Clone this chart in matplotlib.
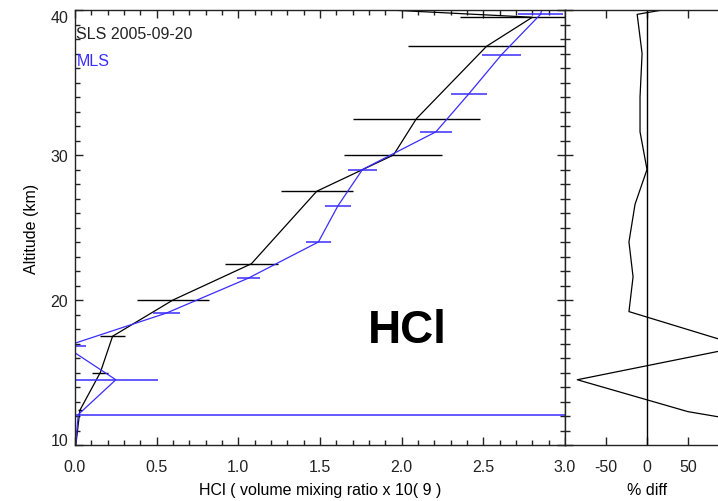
import matplotlib
matplotlib.use("Agg")
import matplotlib.pyplot as plt
from matplotlib.ticker import MultipleLocator, FormatStrFormatter

plt.rcParams['font.family'] = ['Liberation Sans', 'DejaVu Sans']
plt.rcParams['font.size'] = 11.5
plt.rcParams['axes.unicode_minus'] = False

# SLS balloon profile (altitude km, HCl ppbv, error)
sls_alt = [40.3, 39.5, 37.5, 32.5, 30.0, 27.5, 22.5, 20.0, 17.5, 15.0, 12.4, 10.0]
sls_hcl = [1.40, 2.80, 2.52, 2.09, 1.95, 1.48, 1.08, 0.60, 0.23, 0.155, 0.03, 0.005]
sls_err = [0.30, 0.44, 0.48, 0.39, 0.30, 0.22, 0.16, 0.22, 0.075, 0.05, 0.012, 0.0]

# MLS profile
mls_alt = [40.5, 39.7, 36.9, 34.2, 31.6, 29.0, 26.5, 24.0, 21.5, 19.1, 16.8, 14.5, 12.1, 9.5]
mls_hcl = [2.87, 2.85, 2.61, 2.41, 2.21, 1.76, 1.61, 1.49, 1.06, 0.56, -0.06, 0.25, 0.02, 0.0]
mls_err = [0.13, 0.135, 0.12, 0.11, 0.10, 0.09, 0.08, 0.075, 0.07, 0.08, 0.13, 0.26, 3.5, 0.0]

# percent difference
diff_alt = [40.5, 39.7, 37.0, 34.0, 31.6, 29.0, 26.6, 24.0, 21.6, 19.2, 16.8, 14.5, 12.3, 11.8]
diff_val = [70, -12, -6, -8.5, -8.5, 0, -14.6, -22, -17, -22, 117, -85, 50, 102]

blue = '#3a2cff'

fig = plt.figure(figsize=(7.18, 5.02), dpi=100)
ax = fig.add_axes([75/718, 56/502, 490/718, 435/502])
ax2 = fig.add_axes([565/718, 56/502, 164/718, 435/502])

# left panel
ax.plot(sls_hcl, sls_alt, color='black', lw=0.9)
ax.errorbar(sls_hcl, sls_alt, xerr=sls_err, fmt='none', ecolor='black', elinewidth=1.0, capsize=0)
ax.plot(mls_hcl, mls_alt, color=blue, lw=0.9)
ax.errorbar(mls_hcl, mls_alt, xerr=mls_err, fmt='none', ecolor=blue, elinewidth=1.1, capsize=0)

ax.set_xlim(0, 3)
ax.set_ylim(10, 40)
ax.xaxis.set_major_locator(MultipleLocator(0.5))
ax.xaxis.set_minor_locator(MultipleLocator(0.1))
ax.xaxis.set_major_formatter(FormatStrFormatter('%.1f'))
ax.yaxis.set_major_locator(MultipleLocator(10))
ax.yaxis.set_minor_locator(MultipleLocator(1))
ax.tick_params(which='both', direction='in', top=True, right=True, colors='#222222')
ax.tick_params(which='major', length=6, width=1)
ax.tick_params(which='minor', length=3.5, width=1)
ax.tick_params(axis='x', pad=10)
ax.tick_params(axis='y', pad=5)
for s in ax.spines.values():
    s.set_linewidth(1.0)
    s.set_color('#222222')

ax.set_xlabel('HCl ( volume mixing ratio x 10( 9 )', labelpad=6)
ax.set_ylabel('Altitude (km)', labelpad=8)

fig.canvas.draw()
for lab in ax.get_yticklabels():
    if lab.get_text() == '40':
        lab.set_va('top')
    elif lab.get_text() == '10':
        lab.set_va('baseline')

ax.text(0.003, 0.945, 'SLS 2005-09-20', transform=ax.transAxes, color='#222222',
        ha='left', va='center')
ax.text(0.003, 0.883, 'MLS', transform=ax.transAxes, color=blue, ha='left', va='center')
ax.text(0.678, 0.264, 'HCl', transform=ax.transAxes, fontsize=33, fontweight='bold',
        ha='center', va='center')

# right panel
ax2.plot(diff_val, diff_alt, color='black', lw=0.9)
ax2.axvline(0, color='black', lw=1.0)
ax2.set_xlim(-100, 100)
ax2.set_ylim(10, 40)
ax2.set_xticks([-50, 0, 50])
ax2.yaxis.set_major_locator(MultipleLocator(10))
ax2.yaxis.set_minor_locator(MultipleLocator(1))
ax2.tick_params(which='both', direction='in', top=True, right=False, labelleft=False,
                colors='#222222')
ax2.tick_params(which='major', length=6, width=1)
ax2.tick_params(which='minor', length=3.5, width=1)
ax2.tick_params(axis='x', pad=10)
for s in ax2.spines.values():
    s.set_linewidth(1.0)
    s.set_color('#222222')
ax2.set_xlabel('% diff', labelpad=6)

fig.savefig('out.png', dpi=100)
